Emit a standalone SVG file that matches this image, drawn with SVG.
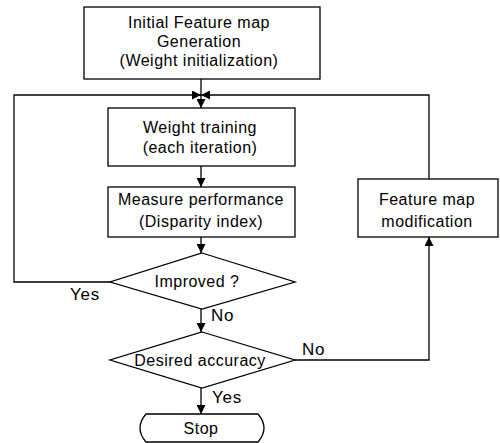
<svg xmlns="http://www.w3.org/2000/svg" width="500" height="443" viewBox="0 0 500 443">
<style>
.box{fill:#fff;stroke:#000;stroke-width:1.3}
.ln{fill:none;stroke:#000;stroke-width:1.3}
text{font-family:"Liberation Sans",Arial,sans-serif;font-size:16px;letter-spacing:0.5px;fill:#000;text-anchor:middle}
.lbl{text-anchor:start;font-size:17px;letter-spacing:0.8px}
</style>
<defs>
<marker id="ah" viewBox="0 0 10 10" refX="10" refY="5" markerWidth="9" markerHeight="9" markerUnits="userSpaceOnUse" orient="auto">
<path d="M0,0 L10,5 L0,10 Z" fill="#000"/>
</marker>
</defs>
<rect width="500" height="443" fill="#fff"/>
<g id="connectors">
<path class="ln" d="M201,79 V108" marker-end="url(#ah)"/>
<path class="ln" d="M110,282 H14 V95 H201" marker-end="url(#ah)"/>
<path class="ln" d="M429,179 V95 H201" marker-end="url(#ah)"/>
<path class="ln" d="M201,166 V187" marker-end="url(#ah)"/>
<path class="ln" d="M201,237 V253" marker-end="url(#ah)"/>
<path class="ln" d="M201,309 V332" marker-end="url(#ah)"/>
<path class="ln" d="M295,360 H429 V237" marker-end="url(#ah)"/>
<path class="ln" d="M201,388 V414" marker-end="url(#ah)"/>
<text class="lbl" x="70" y="300">Yes</text>
<text class="lbl" x="211" y="321">No</text>
<text class="lbl" x="302" y="355">No</text>
<text class="lbl" x="212" y="403">Yes</text>
</g>
<g id="init">
<rect class="box" x="84" y="7" width="236" height="72"/>
<text x="199" y="28">Initial Feature map</text>
<text x="199" y="47">Generation</text>
<text x="199" y="66">(Weight initialization)</text>
</g>
<g id="training">
<rect class="box" x="108" y="108" width="187" height="58"/>
<text x="200" y="133">Weight training</text>
<text x="200" y="153">(each iteration)</text>
</g>
<g id="measure">
<rect class="box" x="108" y="187" width="187" height="50"/>
<text x="201" y="205">Measure performance</text>
<text x="201" y="227">(Disparity index)</text>
</g>
<g id="improved">
<path class="box" d="M202,253 L295,282 L202,309 L110,282 Z"/>
<text x="197" y="287">Improved ?</text>
</g>
<g id="modification">
<rect class="box" x="358" y="179" width="140" height="58"/>
<text x="427" y="205">Feature map</text>
<text x="427" y="227">modification</text>
</g>
<g id="accuracy">
<path class="box" d="M202,332 L295,360 L202,388 L110,360 Z"/>
<text x="200" y="366">Desired accuracy</text>
</g>
<g id="stop">
<path class="box" d="M146,414 H258 Q270,428 258,442 H146 Q134,428 146,414 Z"/>
<text x="201" y="434">Stop</text>
</g>
</svg>
